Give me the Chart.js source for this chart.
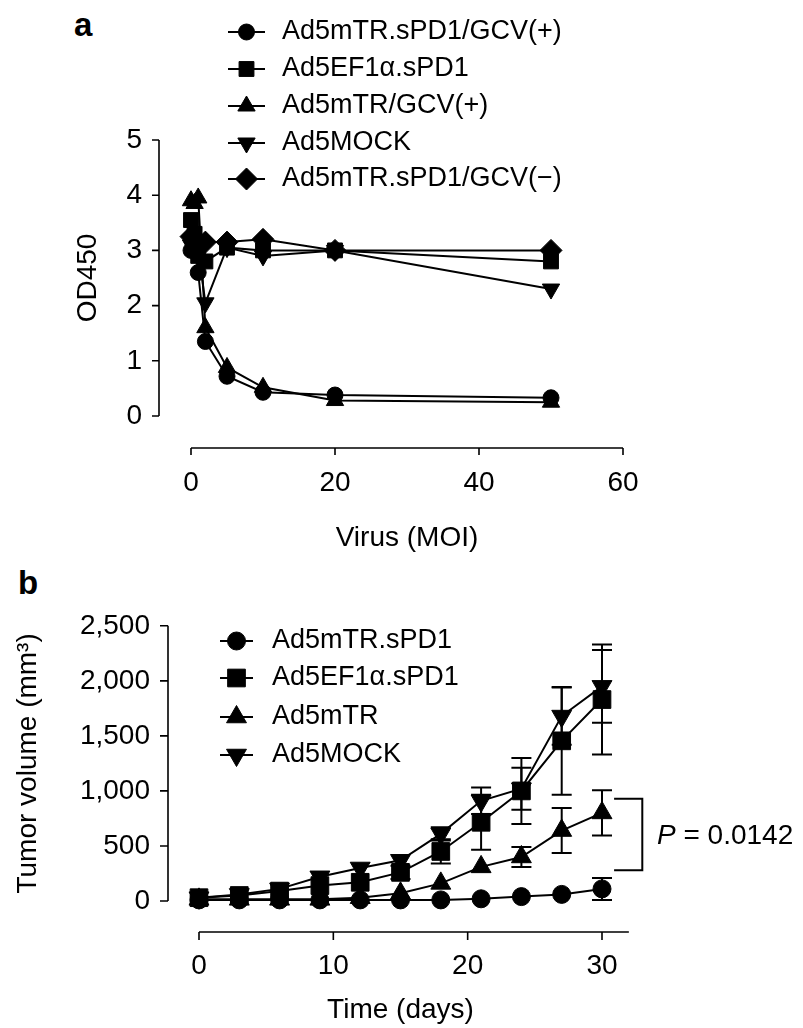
<!DOCTYPE html>
<html>
<head>
<meta charset="utf-8">
<script src="https://cdn.jsdelivr.net/npm/chart.js@4/dist/chart.umd.min.js"></script>
<style>
html, body { margin: 0; padding: 0; background: #fff; }
body { width: 803px; height: 1028px; position: relative; overflow: hidden; font-family: "Liberation Sans", Arial, Helvetica, sans-serif; }
.panel { position: absolute; left: 0; width: 803px; }
#panelA { top: 0; height: 560px; }
#panelB { top: 560px; height: 468px; }
.tag { position: absolute; font-weight: bold; font-size: 33px; line-height: 1; }
.pval { position: absolute; font-size: 28px; line-height: 1; left: 657px; top: 821px; }
</style>
</head>
<body>
<div class="tag" style="left:74px;top:8px;">a</div>
<div class="tag" style="left:18px;top:566px;">b</div>
<div id="panelA" class="panel"><canvas id="odChart"></canvas></div>
<div id="panelB" class="panel"><canvas id="tumorChart"></canvas></div>
<div class="pval"><i>P</i> = 0.0142</div>
<script>
// Panel a: OD450 vs virus MOI
const moi = [0, 0.5, 1, 2, 5, 10, 20, 50];
const odSpd1Gcv = [3.0, 3.1, 2.6, 1.35, 0.72, 0.43, 0.38, 0.33];
const odEf1a = [3.55, 3.3, 2.9, 2.8, 3.05, 3.0, 3.0, 2.8];
const odMtrGcv = [3.9, 3.85, 3.95, 1.6, 0.88, 0.52, 0.28, 0.25];
const odMock = [3.1, 3.2, 3.0, 2.05, 3.05, 2.9, 3.0, 2.3];
const odSpd1NoGcv = [3.25, 3.2, 3.1, 3.15, 3.15, 3.2, 3.0, 3.0];
const odLabels = ['Ad5mTR.sPD1/GCV(+)', 'Ad5EF1\u03b1.sPD1', 'Ad5mTR/GCV(+)', 'Ad5MOCK', 'Ad5mTR.sPD1/GCV(\u2212)'];

// Panel b: tumor volume vs time
const days = [0, 3, 6, 9, 12, 15, 18, 21, 24, 27, 30];
const volSpd1 = [10, 10, 10, 10, 10, 10, 10, 20, 40, 60, 110];
const volEf1a = [30, 50, 90, 140, 170, 260, 450, 715, 1000, 1455, 1830];
const volMtr = [15, 15, 15, 15, 30, 70, 160, 310, 400, 640, 800];
const volMock = [30, 60, 110, 220, 300, 370, 610, 910, 1020, 1680, 1950];
const errSpd1 = [0, 0, 0, 0, 0, 0, 0, 0, 0, 0, 100];
const errEf1a = [0, 0, 0, 0, 0, 60, 110, 250, 300, 490, 500];
const errMtr = [0, 0, 0, 0, 0, 0, 0, 0, 90, 205, 205];
const errMock = [0, 0, 0, 0, 0, 0, 60, 120, 190, 260, 330];
const volLabels = ['Ad5mTR.sPD1', 'Ad5EF1\u03b1.sPD1', 'Ad5mTR', 'Ad5MOCK'];
const bracketVol = [280, 930];
const bracketDay = [30.9, 33];

const FONT = '"Liberation Sans", Arial, Helvetica, sans-serif';
const styles = [
    { pointStyle: 'circle', rotation: 0 },
    { pointStyle: 'rect', rotation: 0 },
    { pointStyle: 'triangle', rotation: 0 },
    { pointStyle: 'triangle', rotation: 180 },
    { pointStyle: 'rectRot', rotation: 0 }
];

const toPoints = (xs, ys) => xs.map((x, i) => ({ x: x, y: ys[i] }));

const makeSet = (label, xs, ys, idx, radius, errors) => ({
    label: label,
    data: toPoints(xs, ys),
    errors: errors,
    borderColor: '#000',
    backgroundColor: '#000',
    borderWidth: 2,
    pointStyle: styles[idx].pointStyle,
    pointRotation: styles[idx].rotation,
    pointRadius: radius,
    pointBorderWidth: 1,
    clip: false
});

// axes drawn away from the plot, like the original figure
const offsetAxes = {
    id: 'offsetAxes',
    afterDraw(chart, args, opts) {
        const { ctx, chartArea: a, scales: { x, y } } = chart;
        const ax = a.left - opts.gap, ay = a.bottom + opts.gap;
        ctx.save();
        ctx.strokeStyle = '#000';
        ctx.lineWidth = 1.6;
        ctx.beginPath();
        ctx.moveTo(ax, y.getPixelForValue(y.max));
        ctx.lineTo(ax, y.getPixelForValue(y.min));
        y.ticks.forEach(t => {
            const py = y.getPixelForValue(t.value);
            ctx.moveTo(ax - opts.tick, py);
            ctx.lineTo(ax, py);
        });
        ctx.moveTo(x.getPixelForValue(x.min), ay);
        ctx.lineTo(x.getPixelForValue(opts.xEnd), ay);
        x.ticks.forEach(t => {
            const px = x.getPixelForValue(t.value);
            ctx.moveTo(px, ay);
            ctx.lineTo(px, ay + opts.tick);
        });
        ctx.stroke();
        ctx.restore();
    }
};

const errorBars = {
    id: 'errorBars',
    afterDatasetsDraw(chart) {
        const { ctx, scales: { x, y } } = chart;
        ctx.save();
        ctx.strokeStyle = '#000';
        ctx.lineWidth = 2;
        chart.data.datasets.forEach(ds => {
            if (!ds.errors) return;
            ds.data.forEach((p, i) => {
                const e = ds.errors[i];
                if (!e) return;
                const px = x.getPixelForValue(p.x);
                const top = y.getPixelForValue(p.y + e);
                const bot = y.getPixelForValue(p.y - e);
                ctx.beginPath();
                ctx.moveTo(px, top); ctx.lineTo(px, bot);
                ctx.moveTo(px - 10, top); ctx.lineTo(px + 10, top);
                ctx.moveTo(px - 10, bot); ctx.lineTo(px + 10, bot);
                ctx.stroke();
            });
        });
        ctx.restore();
    }
};

const figLegend = {
    id: 'figLegend',
    afterDraw(chart, args, opts) {
        const ctx = chart.ctx;
        ctx.save();
        ctx.fillStyle = '#000';
        ctx.strokeStyle = '#000';
        ctx.font = '27px ' + FONT;
        ctx.textBaseline = 'middle';
        chart.data.datasets.forEach((ds, i) => {
            const ly = opts.rows[i];
            ctx.lineWidth = 2;
            ctx.beginPath();
            ctx.moveTo(opts.line[0], ly);
            ctx.lineTo(opts.line[1], ly);
            ctx.stroke();
            ctx.lineWidth = 1;
            Chart.helpers.drawPoint(ctx, {
                pointStyle: ds.pointStyle, rotation: ds.pointRotation,
                radius: ds.pointRadius, borderWidth: 1
            }, (opts.line[0] + opts.line[1]) / 2, ly);
            ctx.fillText(ds.label, opts.textX, ly);
        });
        ctx.restore();
    }
};

const bracket = {
    id: 'bracket',
    afterDraw(chart) {
        if (chart.canvas.id !== 'tumorChart') return;
        const { ctx, scales: { x, y } } = chart;
        const x0 = x.getPixelForValue(bracketDay[0]), x1 = x.getPixelForValue(bracketDay[1]);
        const y0 = y.getPixelForValue(bracketVol[1]), y1 = y.getPixelForValue(bracketVol[0]);
        ctx.save();
        ctx.strokeStyle = '#000';
        ctx.lineWidth = 2;
        ctx.beginPath();
        ctx.moveTo(x0, y0); ctx.lineTo(x1, y0); ctx.lineTo(x1, y1); ctx.lineTo(x0, y1);
        ctx.stroke();
        ctx.restore();
    }
};

const axisFont = { family: FONT, size: 28 };

const odChart = new Chart(document.getElementById('odChart'), {
    type: 'line',
    data: {
        datasets: [
            makeSet(odLabels[0], moi, odSpd1Gcv, 0, 8),
            makeSet(odLabels[1], moi, odEf1a, 1, 10.5),
            makeSet(odLabels[2], moi, odMtrGcv, 2, 10),
            makeSet(odLabels[3], moi, odMock, 3, 10),
            makeSet(odLabels[4], moi, odSpd1NoGcv, 4, 11)
        ]
    },
    options: {
        responsive: true,
        maintainAspectRatio: false,
        animation: false,
        layout: { padding: { top: 140, right: 180, bottom: 0, left: 0 } },
        plugins: {
            legend: { display: false },
            tooltip: { enabled: false },
            offsetAxes: { gap: 32, tick: 7, xEnd: 60 },
            figLegend: { rows: [32, 69, 106, 143, 179], line: [228, 265], textX: 282 }
        },
        scales: {
            x: {
                type: 'linear', min: 0, max: 60,
                afterFit: s => { s.height = 144; },
                grid: { display: false, drawTicks: false },
                border: { display: false },
                ticks: { stepSize: 20, color: '#000', font: axisFont, padding: 50 },
                title: { display: true, text: 'Virus (MOI)', color: '#000', font: axisFont, padding: { top: 0, bottom: 5 } }
            },
            y: {
                min: 0, max: 5,
                afterFit: s => { s.width = 191; },
                grid: { display: false, drawTicks: false },
                border: { display: false },
                ticks: { stepSize: 1, color: '#000', font: axisFont, padding: 49 },
                title: { display: true, text: 'OD450', color: '#000', font: axisFont, padding: { top: 71, bottom: 0 } }
            }
        }
    },
    plugins: [offsetAxes, figLegend]
});

const tumorChart = new Chart(document.getElementById('tumorChart'), {
    type: 'line',
    data: {
        datasets: [
            makeSet(volLabels[0], days, volSpd1, 0, 9, errSpd1),
            makeSet(volLabels[1], days, volEf1a, 1, 12.5, errEf1a),
            makeSet(volLabels[2], days, volMtr, 2, 11.5, errMtr),
            makeSet(volLabels[3], days, volMock, 3, 11.5, errMock)
        ]
    },
    options: {
        responsive: true,
        maintainAspectRatio: false,
        animation: false,
        layout: { padding: { top: 64, right: 201, bottom: 0, left: 0 } },
        plugins: {
            legend: { display: false },
            tooltip: { enabled: false },
            offsetAxes: { gap: 31, tick: 8, xEnd: 32 },
            figLegend: { rows: [81, 118, 157, 195], line: [220, 253], textX: 272 }
        },
        scales: {
            x: {
                type: 'linear', min: 0, max: 30,
                afterFit: s => { s.height = 127; },
                grid: { display: false, drawTicks: false },
                border: { display: false },
                ticks: { stepSize: 10, color: '#000', font: axisFont, padding: 48 },
                title: { display: true, text: 'Time (days)', color: '#000', font: axisFont, padding: { top: 0, bottom: 1 } }
            },
            y: {
                min: 0, max: 2500,
                afterFit: s => { s.width = 199; },
                grid: { display: false, drawTicks: false },
                border: { display: false },
                ticks: { stepSize: 500, color: '#000', font: axisFont, padding: 49,
                    callback: v => v.toLocaleString('en-US') },
                title: { display: true, text: 'Tumor volume (mm\u00b3)', color: '#000', font: axisFont, padding: { top: 11, bottom: 0 } }
            }
        }
    },
    plugins: [offsetAxes, errorBars, figLegend, bracket]
});
</script>
</body>
</html>
